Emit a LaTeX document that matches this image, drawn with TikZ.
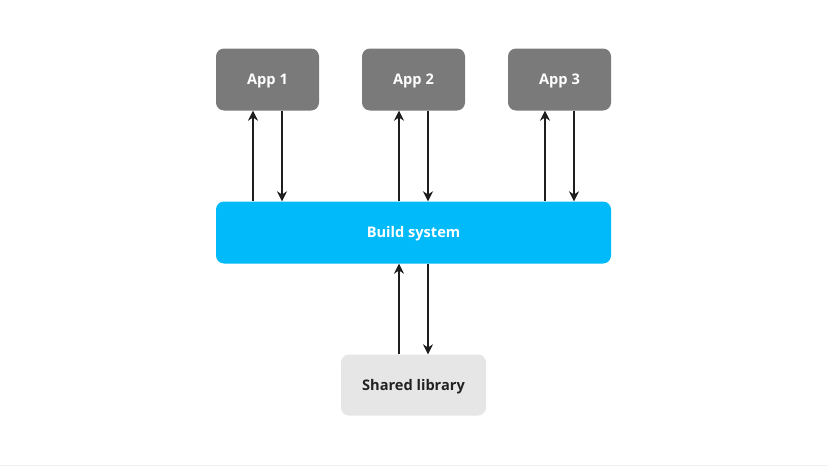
\documentclass[tikz,border=0pt]{standalone}
\usepackage{fontspec}
\setmainfont{Open Sans}
\usetikzlibrary{arrows.meta}
\definecolor{appgray}{HTML}{7A7A7A}
\definecolor{buildblue}{HTML}{00BAFA}
\definecolor{libgray}{HTML}{E6E6E6}
\definecolor{textdark}{HTML}{222222}
\definecolor{arrowc}{HTML}{1E1E1E}
\tikzset{
  boxtext/.style={font=\bfseries\fontsize{14.6}{16}\selectfont, text height=10.5pt, text depth=0pt},
  appbox/.style={boxtext, fill=appgray, rounded corners=8pt, minimum width=103pt, minimum height=62pt, inner sep=0pt, text=white},
  buildbox/.style={boxtext, fill=buildblue, rounded corners=8pt, minimum width=395pt, minimum height=62pt, inner sep=0pt, text=white},
  libbox/.style={boxtext, fill=libgray, rounded corners=8pt, minimum width=145pt, minimum height=61pt, inner sep=0pt, text=textdark},
  arr/.style={draw=arrowc, line width=1.4pt, -{Stealth[length=10pt,width=10pt]}}
}
\begin{document}
\begin{tikzpicture}[x=1pt,y=-1pt]
\useasboundingbox (0,0) rectangle (828,466);
\fill[white] (0,0) rectangle (828,466);
\draw[line width=1pt, draw=black!6] (0,465) -- (828,465);
\node[appbox] (a1) at (267.5,79.5) {App 1};
\node[appbox] (a2) at (413.5,79.5) {App 2};
\node[appbox] (a3) at (559.5,79.5) {App 3};
\node[buildbox] (b) at (413.5,232.5) {Build system};
\node[libbox] (s) at (413.5,385) {Shared library};
\foreach \n in {a1,a2,a3}{
  \draw[arr] ([xshift=-14.5pt]\n.south |- b.north) -- ([xshift=-14.5pt]\n.south);
  \draw[arr] ([xshift=14.5pt]\n.south) -- ([xshift=14.5pt]\n.south |- b.north);
}
\draw[arr] ([xshift=-14.5pt]s.north) -- ([xshift=-14.5pt]s.north |- b.south);
\draw[arr] ([xshift=14.5pt]s.north |- b.south) -- ([xshift=14.5pt]s.north);
\end{tikzpicture}
\end{document}
